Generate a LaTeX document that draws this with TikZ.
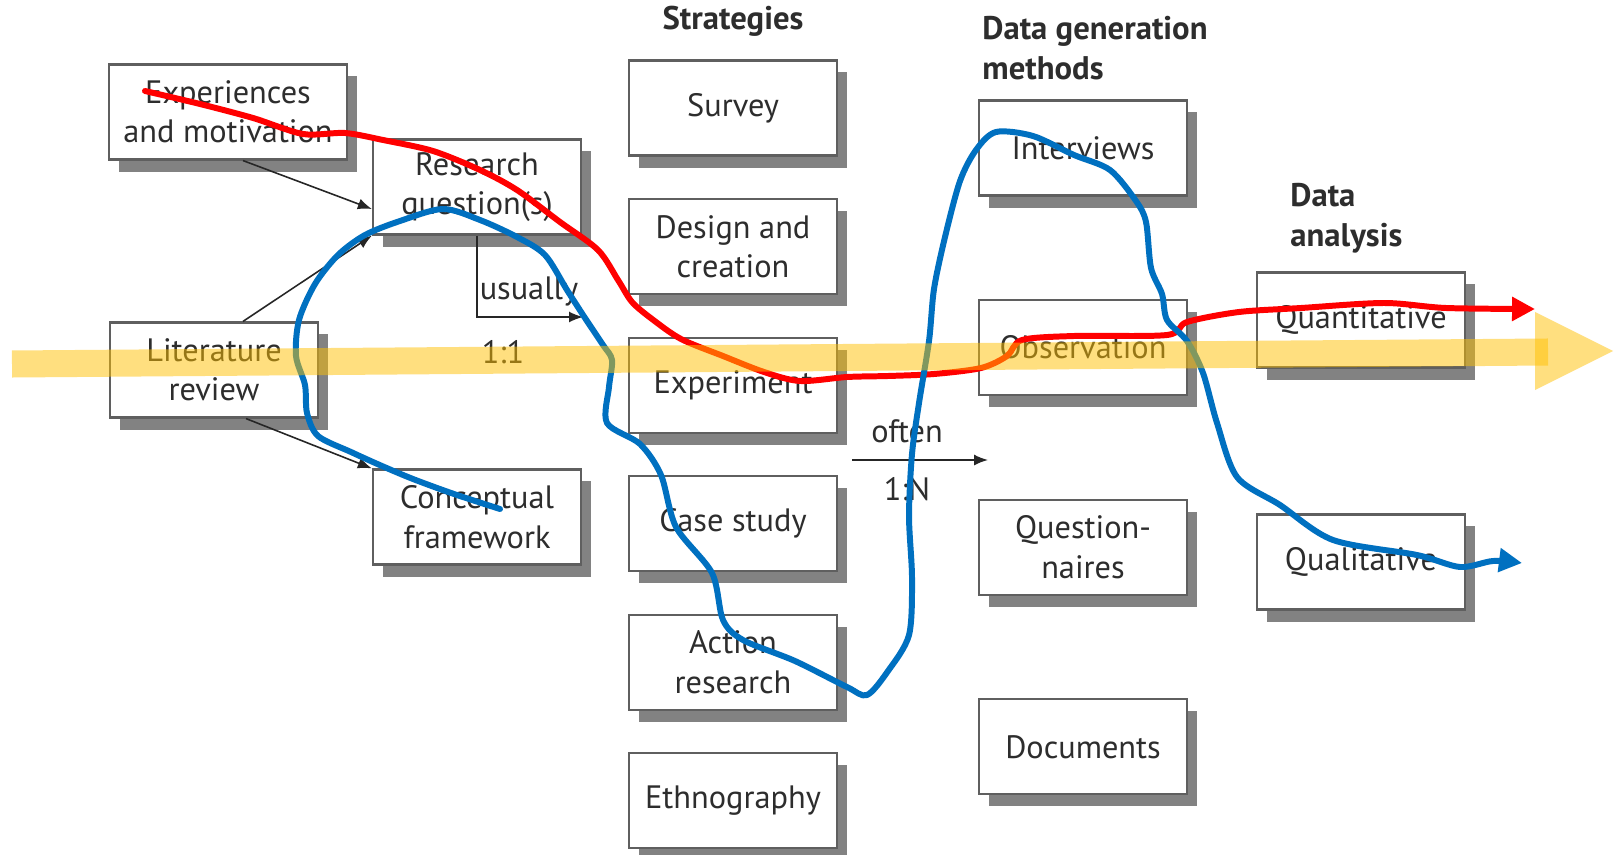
\documentclass[tikz,border=0pt]{standalone}
\usepackage{fontspec}
\setmainfont{PT Sans}
\usetikzlibrary{arrows.meta,shadows}

\definecolor{boxline}{RGB}{95,95,95}
\definecolor{boxtext}{RGB}{45,45,45}
\definecolor{shade}{RGB}{130,130,130}
\definecolor{penred}{RGB}{255,0,0}
\definecolor{penblue}{RGB}{0,112,192}
\definecolor{marker}{RGB}{255,192,0}

\tikzset{
  box/.style={draw=boxline, line width=0.6pt, fill=white, text=boxtext,
    minimum width=2.08cm, minimum height=0.95cm, align=center,
    font=\fontsize{9.2}{11.2}\selectfont,
    drop shadow={shadow xshift=0.1cm, shadow yshift=-0.12cm, fill=shade, opacity=1}},
  head/.style={font=\fontsize{9.3}{11.4}\selectfont\bfseries, text=boxtext, align=left},
  note/.style={font=\fontsize{9.2}{11.2}\selectfont, text=boxtext},
  link/.style={->, draw=black!85, line width=0.45pt},
  pen/.style={line width=1.7pt, line join=round, line cap=round,
    -{Triangle[length=0.23cm,width=0.23cm]}},
}

\begin{document}
\begin{tikzpicture}[x=0.01cm, y=-0.01cm, >={Latex[length=1.4mm,width=1.1mm]}]
  \path[use as bounding box, fill=white] (0,0) rectangle (1619,855);

  % first steps
  \node[box, minimum width=2.37cm] (exp) at (228,112) {Experiences\\and motivation};
  \node[box] (rq)  at (477,187) {Research\\question(s)};
  \node[box] (lit) at (214,370) {Literature\\review};
  \node[box] (cf)  at (477,517) {Conceptual\\framework};

  % strategies
  \node[head] (strat) at (733,21) {Strategies};
  \begin{scope}[node distance=1.385cm]
    \node[box] (survey)  at (733,108)      {Survey};
    \node[box] (design)  [below of=survey] {Design and\\creation};
    \node[box] (experim) [below of=design] {Experiment};
    \node[box] (cases)   [below of=experim]{Case study};
    \node[box] (action)  [below of=cases]  {Action\\research};
    \node[box] (ethno)   [below of=action] {Ethnography};
  \end{scope}

  % data generation methods
  \node[head, anchor=west] (gen) at (970,48) {Data generation\\methods};
  \begin{scope}[node distance=1.995cm]
    \node[box] (interv) at (1083,148)     {Interviews};
    \node[box] (observ) [below of=interv] {Observation};
    \node[box] (quest)  [below of=observ] {Question-\\naires};
    \node[box] (docs)   [below of=quest]  {Documents};
  \end{scope}

  % data analysis
  \node[head, anchor=west] (ana) at (1278,218) {Data\\analysis};
  \node[box] (quant) at (1361,320) {Quantitative};
  \node[box] (qual)  at (1361,562) {Qualitative};

  % links
  \draw[link] ([xshift=0.15cm]exp.south) -- ([yshift=-0.22cm]rq.west);
  \draw[link] ([xshift=0.29cm]lit.north) -- (rq.south west);
  \draw[link] ([xshift=0.32cm]lit.south) -- (cf.north west);

  \coordinate (usu) at (583,317);
  \draw[link] (rq.south) |- (usu);
  \node[note] (usually) at (529,291) {usually};
  \node[note] (one)     at (503,352) {1:1};

  \coordinate (oft0) at (852,460);
  \coordinate (oft1) at (988,460);
  \draw[link] (oft0) -- (oft1);
  \node[note] (often) at (907,431) {often};
  \node[note] (many)  at (907,489) {1:N};

  % red stroke
  \draw[pen, penred] plot[smooth, tension=0.5] coordinates {
    (145,91) (200,104) (253,118) (303,134) (345,133) (383,140) (433,151)
    (480,170) (517,190) (560,222) (598,250) (618,280) (632,302) (652,319)
    (681,339) (723,356) (764,372) (800,381) (847,377) (888,376) (934,374)
    (981,368) (1007,356) (1022,340) (1074,336) (1167,335) (1187,322)
    (1239,312) (1301,308) (1384,303) (1446,308) (1535,309)};

  % blue stroke
  \draw[pen, penblue] plot[smooth, tension=0.5] coordinates {
    (500,509) (454,494) (413,479) (382,466) (351,452) (318,436) (307,413)
    (305,385) (296,356) (299,320) (315,284) (338,255) (365,235) (400,221)
    (443,209) (480,220) (517,237) (545,255) (567,290) (585,318) (603,345)
    (612,360) (609,387) (607,423) (640,444) (661,475) (676,527) (712,573)
    (723,620) (743,640) (795,661) (847,687) (867,695) (888,671) (909,635)
    (912,578) (909,516) (912,454) (919,403) (929,341) (934,289) (945,237)
    (960,181) (976,150) (996,132) (1033,136) (1074,155) (1110,170)
    (1136,201) (1146,222) (1151,268) (1162,294) (1167,320) (1187,341)
    (1203,373) (1217,423) (1237,477) (1280,505) (1333,540) (1417,555)
    (1460,567) (1493,561) (1522,563)};

  % yellow marker arrow
  \draw[marker, opacity=0.5, line width=0.27cm] (12,364) -- (1548,352);
  \fill[marker, opacity=0.5] (1535,312) -- (1613,351) -- (1535,390) -- cycle;
\end{tikzpicture}
\end{document}
